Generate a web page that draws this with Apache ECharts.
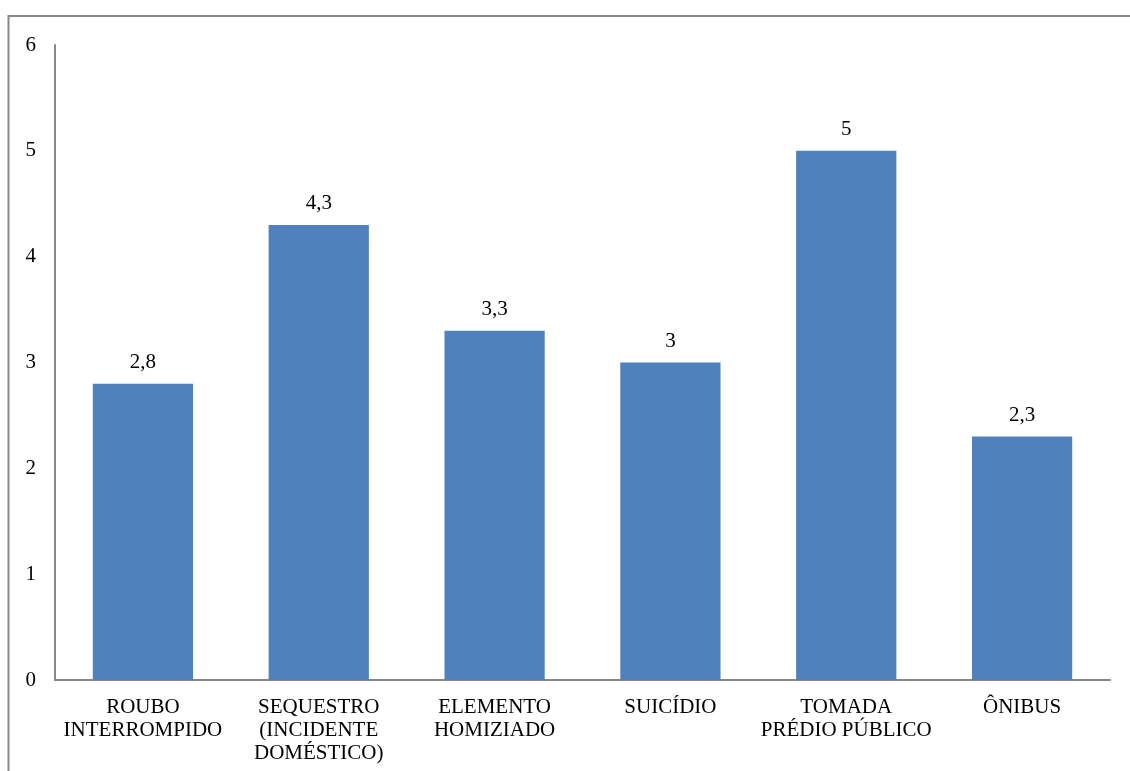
<!DOCTYPE html>
<html>
<head>
<meta charset="utf-8">
<script src="https://cdn.jsdelivr.net/npm/echarts@6/dist/echarts.min.js"></script>
<style>
html,body{margin:0;padding:0;background:#fff;}
#chart{width:1130px;height:771px;}
</style>
</head>
<body>
<div id="chart"></div>
<script>
const categories = ["ROUBO\nINTERROMPIDO", "SEQUESTRO\n(INCIDENTE\nDOMÉSTICO)", "ELEMENTO\nHOMIZIADO", "SUICÍDIO", "TOMADA\nPRÉDIO PÚBLICO", "ÔNIBUS"];
const values = [2.8, 4.3, 3.3, 3, 5, 2.3];
const yTicks = { min: 0, max: 6, interval: 1 };

const font = "'Liberation Serif', 'Times New Roman', serif";
const chart = echarts.init(document.getElementById('chart'), null, { renderer: 'canvas' });
chart.setOption({
  animation: false,
  backgroundColor: '#fff',
  graphic: [{
    type: 'rect',
    shape: { x: 8.5, y: 16, width: 1200, height: 900 },
    style: { fill: 'none', stroke: '#888', lineWidth: 2 },
    silent: true
  }],
  grid: { left: 55, right: 20, top: 45, bottom: 91, containLabel: false },
  xAxis: {
    type: 'category',
    data: categories,
    axisLine: { show: true, lineStyle: { color: '#878787', width: 2 } },
    axisTick: { show: false },
    axisLabel: {
      interval: 0, color: '#000', fontFamily: font, fontSize: 21,
      lineHeight: 23, margin: 16
    }
  },
  yAxis: {
    type: 'value',
    min: yTicks.min, max: yTicks.max, interval: yTicks.interval,
    axisLine: { show: true, lineStyle: { color: '#878787', width: 2 } },
    axisTick: { show: false },
    splitLine: { show: false },
    axisLabel: { color: '#000', fontFamily: font, fontSize: 21, margin: 19 }
  },
  series: [{
    type: 'bar',
    data: values,
    barWidth: '57%',
    itemStyle: { color: '#4F81BD' },
    label: {
      show: true, position: 'top', distance: 11,
      color: '#000', fontFamily: font, fontSize: 21,
      formatter: p => String(p.value).replace('.', ',')
    }
  }]
});
</script>
</body>
</html>
